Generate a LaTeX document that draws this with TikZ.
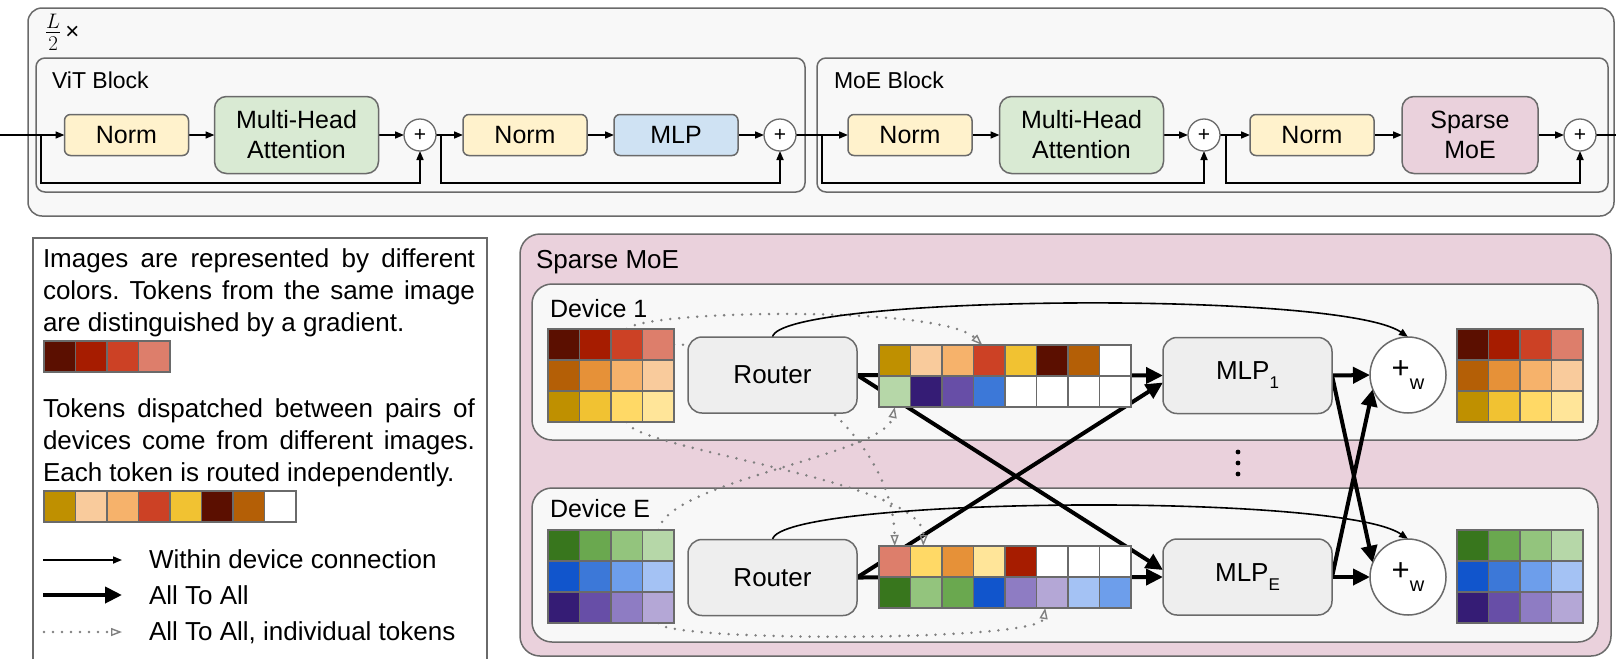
\RequirePackage{fix-cm}
\documentclass[tikz,border=0pt]{standalone}
\usepackage{fontspec}
\setmainfont{Liberation Sans}
\usetikzlibrary{arrows.meta,calc}
\pgfdeclarelayer{back}
\pgfdeclarelayer{mid}
\pgfsetlayers{back,mid,main}
\frenchspacing

\definecolor{bgray}{HTML}{6A6A6A}
\definecolor{panel}{HTML}{F8F8F8}
\definecolor{normc}{HTML}{FFF2CC}
\definecolor{attc}{HTML}{D9EAD3}
\definecolor{mlpc}{HTML}{CFE2F3}
\definecolor{moec}{HTML}{EAD1DC}
\definecolor{routc}{HTML}{EEEEEE}
\definecolor{dotc}{HTML}{808080}

\newcommand{\fsz}[1]{\fontsize{#1}{#1}\selectfont}
\newcommand{\tokrow}[5]{%
  \foreach \hx [count=\i] in {#5} {%
    \edef\tmpdef{\noexpand\definecolor{tmpc}{HTML}{\hx}}\tmpdef
    \node[cell, fill=tmpc] (#1-#2-\i) at ({#3+(\i-0.5)*31.5}, #4) {};
  }}

\begin{document}
\begin{tikzpicture}[x=1pt,y=-1pt,
  every node/.append style={inner sep=0pt,outer sep=0pt},
  panelbox/.style={draw=bgray, line width=1.5pt, fill=panel},
  bx/.style={draw=bgray, line width=1.5pt, rounded corners=6pt, minimum height=41pt, align=center, font=\fsz{25}},
  norm/.style={bx, fill=normc, minimum width=124pt},
  att/.style={bx, fill=attc, minimum width=164pt, minimum height=77pt, rounded corners=12pt, font=\fontsize{25}{30}\selectfont},
  mlpb/.style={bx, fill=mlpc, minimum width=124pt},
  smoeb/.style={att, fill=moec, minimum width=136pt},
  plusc/.style={circle, draw=bgray, fill=white, line width=1.3pt, minimum size=32pt, font=\fsz{21}},
  rbox/.style={draw=bgray, fill=routc, line width=1.5pt, rounded corners=14pt, minimum width=169pt, minimum height=76pt, font=\fsz{26}},
  wc/.style={circle, draw=bgray, fill=white, line width=1.5pt, minimum size=76pt},
  cell/.style={draw=bgray, line width=1.5pt, minimum width=31.5pt, minimum height=31pt},
  arr/.style={line width=1.6pt, -{Triangle[length=9pt,width=7pt]}},
  allarr/.style={line width=4pt, -{Triangle[length=17pt,width=16pt]}},
  dotarr/.style={draw=dotc, line width=2.8pt, line cap=round, dash pattern=on 0pt off 9pt,
     -{Triangle[open, length=11pt, width=8pt, line width=1.4pt]}},
  lab/.style={anchor=base west}
]
\useasboundingbox (0,0) rectangle (1616,659);

% ---------- background boxes ----------
\begin{pgfonlayer}{back}
\draw[panelbox, rounded corners=14pt] (28,8) rectangle (1614,216);
\draw[panelbox, rounded corners=9pt] (36,58) rectangle (805,192);
\draw[panelbox, rounded corners=9pt] (817,58) rectangle (1608,192);
\draw[draw=bgray, line width=1.5pt, fill=white] (33,659) -- (33,238) -- (487,238) -- (487,659);
\draw[draw=bgray, line width=1.5pt, fill=moec, rounded corners=20pt] (520,234) rectangle (1611,656);
\draw[panelbox, rounded corners=20pt] (532,284) rectangle (1598,440);
\draw[panelbox, rounded corners=20pt] (532,488) rectangle (1598,642);
\end{pgfonlayer}

% ---------- top section ----------
\node[anchor=west] (lhalf) at (45,32) {\fsz{30}$\frac{L}{2}$\fsz{24}\,×};
\node[lab, font=\fsz{23}] (vitlab) at (52,88) {ViT Block};
\node[lab, font=\fsz{23}] (moelab) at (834,88) {MoE Block};

\node[norm] (n1) at (126.5,135) {Norm};
\node[att] (a1) at (296.5,135) {Multi-Head\\Attention};
\node[plusc] (p1) at (420,135) {+};
\node[norm] (n2) at (525,135) {Norm};
\node[mlpb] (mlp) at (676,135) {MLP};
\node[plusc] (p2) at (780,135) {+};
\node[norm] (n3) at (910,135) {Norm};
\node[att] (a2) at (1081.5,135) {Multi-Head\\Attention};
\node[plusc] (p3) at (1204,135) {+};
\node[norm] (n4) at (1312,135) {Norm};
\node[smoeb] (sm) at (1470,135) {Sparse\\MoE};
\node[plusc] (p4) at (1580,135) {+};

\coordinate (cin) at (0,135);
\coordinate (cout) at (1616,135);
\coordinate (b1) at (41,135);
\coordinate (b2) at (441,135);
\coordinate (b3) at (822,135);
\coordinate (b4) at (1226,135);

\begin{pgfonlayer}{mid}
\draw[arr] (cin) -- (n1.west);
\draw[arr] (n1) -- (a1);
\draw[arr] (a1) -- (p1);
\draw[arr] (p1) -- (n2);
\draw[arr] (n2) -- (mlp);
\draw[arr] (mlp) -- (p2);
\draw[arr] (p2) -- (n3);
\draw[arr] (n3) -- (a2);
\draw[arr] (a2) -- (p3);
\draw[arr] (p3) -- (n4);
\draw[arr] (n4) -- (sm);
\draw[arr] (sm) -- (p4);
\draw[line width=1.6pt] (p4.east) -- (cout);
\draw[arr] (b1) -- ++(0,48) -| (p1.south);
\draw[arr] (b2) -- ++(0,48) -| (p2.south);
\draw[arr] (b3) -- ++(0,48) -| (p3.south);
\draw[arr] (b4) -- ++(0,48) -| (p4.south);
\end{pgfonlayer}

% ---------- legend ----------
\node[lab, font=\fsz{26}] (t1) at (43,267) {\makebox[432pt][s]{Images are represented by different}};
\node[lab, font=\fsz{26}] (t2) at (43,299) {\makebox[432pt][s]{colors. Tokens from the same image}};
\node[lab, font=\fsz{26}] (t3) at (43,331) {are distinguished by a gradient.};
\tokrow{l1}{1}{44}{356.5}{5B0F00,A61C00,CC4125,DD7E6B}
\node[lab, font=\fsz{26}] (t4) at (43,417) {\makebox[432pt][s]{Tokens dispatched between pairs of}};
\node[lab, font=\fsz{26}] (t5) at (43,449) {\makebox[432pt][s]{devices come from different images.}};
\node[lab, font=\fsz{26}] (t6) at (43,481) {Each token is routed independently.};
\tokrow{l2}{1}{44}{506.5}{BF9000,F9CB9C,F6B26B,CC4125,F1C232,5B0F00,B45F06,FFFFFF}

\coordinate (la1) at (43,560); \coordinate (la2) at (122,560);
\coordinate (lb1) at (43,595); \coordinate (lb2) at (122,595);
\coordinate (lc1) at (44,632); \coordinate (lc2) at (122,632);
\draw[arr] (la1) -- (la2);
\draw[allarr] (lb1) -- (lb2);
\draw[dotarr] (lc1) -- (lc2);
\node[lab, font=\fsz{26}] (lt1) at (149,568) {Within device connection};
\node[lab, font=\fsz{26}] (lt2) at (149,604) {All To All};
\node[lab, font=\fsz{26}] (lt3) at (149,640) {All To All, individual tokens};

% ---------- Sparse MoE ----------
\node[lab, font=\fsz{26}] (smlab) at (536,268) {Sparse MoE};
\node[lab, font=\fsz{25}] (d1lab) at (550,317) {Device 1};
\node[lab, font=\fsz{25}] (delab) at (550,517) {Device E};

% input grids
\tokrow{g1}{1}{548}{344.5}{5B0F00,A61C00,CC4125,DD7E6B}
\tokrow{g1}{2}{548}{375.5}{B45F06,E69138,F6B26B,F9CB9C}
\tokrow{g1}{3}{548}{406.5}{BF9000,F1C232,FFD966,FFE599}
\tokrow{gE}{1}{548}{545.5}{38761D,6AA84F,93C47D,B6D7A8}
\tokrow{gE}{2}{548}{576.5}{1155CC,3C78D8,6D9EEB,A4C2F4}
\tokrow{gE}{3}{548}{607.5}{351C75,674EA7,8E7CC3,B4A7D6}
% output grids
\tokrow{o1}{1}{1457}{344.5}{5B0F00,A61C00,CC4125,DD7E6B}
\tokrow{o1}{2}{1457}{375.5}{B45F06,E69138,F6B26B,F9CB9C}
\tokrow{o1}{3}{1457}{406.5}{BF9000,F1C232,FFD966,FFE599}
\tokrow{oE}{1}{1457}{545.5}{38761D,6AA84F,93C47D,B6D7A8}
\tokrow{oE}{2}{1457}{576.5}{1155CC,3C78D8,6D9EEB,A4C2F4}
\tokrow{oE}{3}{1457}{607.5}{351C75,674EA7,8E7CC3,B4A7D6}
% dispatch buffers
\tokrow{b1}{1}{879}{360.5}{BF9000,F9CB9C,F6B26B,CC4125,F1C232,5B0F00,B45F06,FFFFFF}
\tokrow{b1}{2}{879}{391.5}{B6D7A8,351C75,674EA7,3C78D8,FFFFFF,FFFFFF,FFFFFF,FFFFFF}
\tokrow{bE}{1}{879}{561.5}{DD7E6B,FFD966,E69138,FFE599,A61C00,FFFFFF,FFFFFF,FFFFFF}
\tokrow{bE}{2}{879}{592.5}{38761D,93C47D,6AA84F,1155CC,8E7CC3,B4A7D6,A4C2F4,6D9EEB}

\node[rbox] (r1) at (772.5,375) {Router};
\node[rbox] (rE) at (772.5,577.5) {Router};
\node[rbox] (m1) at (1247.5,375.5) {MLP\raisebox{-9pt}{\fsz{17}1}};
\node[rbox] (mE) at (1247.5,577) {MLP\raisebox{-9pt}{\fsz{17}E}};
\node[wc] (c1) at (1408,375) {\fsz{31}+\raisebox{-11pt}{\fsz{20}w}};
\node[wc] (cE) at (1408,577) {\fsz{31}+\raisebox{-11pt}{\fsz{20}w}};

\begin{pgfonlayer}{mid}
% all-to-all
\draw[allarr] (r1.east) -- (m1.west);
\draw[allarr] (r1.east) -- ($(mE.west)+(0,-7)$);
\draw[allarr] (rE.east) -- (mE.west);
\draw[allarr] (rE.east) -- ($(m1.west)+(0,7)$);
\draw[allarr] (m1.east) -- (c1.west);
\draw[allarr] (m1.east) -- (cE.158);
\draw[allarr] (mE.east) -- (cE.west);
\draw[allarr] (mE.east) -- (c1.202);
% individual tokens
\draw[dotarr] (g1-1-3.north) .. controls (645,310) and (940,305) .. ($(b1-1-4.north)+(-7,0)$);
\draw[dotarr] (gE-1-4.north) .. controls (670,480) and (885,455) .. (b1-2-1.south);
\draw[dotarr] (g1-3-3.south) .. controls (635,450) and (925,480) .. ($(bE-1-2.north)+(-3,0)$);
\draw[dotarr] (g1-1-4.east) .. controls (780,345) and (893,440) .. (bE-1-1.north);
\draw[dotarr] (gE-3-4.south) .. controls (665,642) and (1040,642) .. ($(bE-2-6.south)+(-7,0)$);
% within device
\draw[arr] (r1.north) .. controls (780,295) and (1340,290) .. (c1.north);
\draw[arr] (rE.north) .. controls (780,497) and (1340,492) .. (cE.north);
\end{pgfonlayer}

% vertical ellipsis
\fill (1238,452) circle (2.4pt);
\fill (1238,463) circle (2.4pt);
\fill (1238,474) circle (2.4pt);
\end{tikzpicture}
\end{document}
